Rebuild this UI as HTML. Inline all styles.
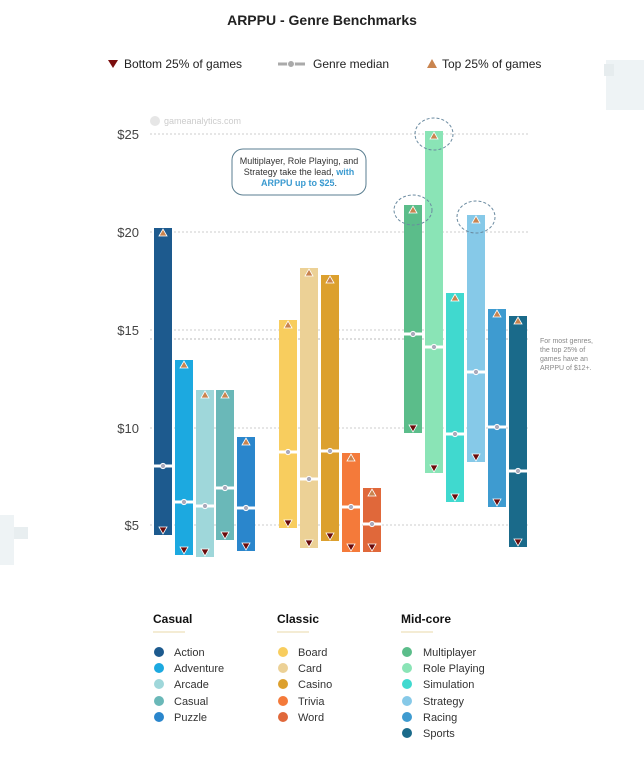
<!DOCTYPE html>
<html><head><meta charset="utf-8"><style>
body{margin:0;background:#fff;font-family:"Liberation Sans",sans-serif;}
svg{display:block}
</style></head><body>
<svg id="s" width="644" height="760" xmlns="http://www.w3.org/2000/svg" font-family="Liberation Sans, sans-serif">
<rect x="606" y="60" width="38" height="50" fill="#eef3f5"/>
<rect x="604" y="64" width="10" height="12" fill="#e6ecee"/>
<rect x="0" y="515" width="14" height="50" fill="#eef3f5"/>
<rect x="14" y="527" width="14" height="12" fill="#e8eef0"/>
<text x="322" y="25" text-anchor="middle" font-size="14" font-weight="bold" fill="#222">ARPPU - Genre Benchmarks</text>
<polygon points="108,60 118,60 113,68" fill="#7a0d0d"/>
<text x="124" y="68" font-size="12" fill="#222">Bottom 25% of games</text>
<line x1="278" y1="64" x2="305" y2="64" stroke="#aaa" stroke-width="3"/>
<circle cx="291" cy="64" r="3.5" fill="#aaa" stroke="#fff" stroke-width="1"/>
<text x="313" y="68" font-size="12" fill="#222">Genre median</text>
<polygon points="427,68 437,68 432,59" fill="#c9844f"/>
<text x="442" y="68" font-size="12" fill="#222">Top 25% of games</text>
<circle cx="155" cy="121" r="5" fill="#e6e6e6"/>
<text x="164" y="124" font-size="9" fill="#ccc">gameanalytics.com</text>
<g font-size="13" fill="#444" text-anchor="end">
<text x="139" y="139">$25</text><text x="139" y="237">$20</text><text x="139" y="335">$15</text><text x="139" y="433">$10</text><text x="139" y="530">$5</text>
</g>
<g stroke="#ccc" stroke-dasharray="2,2" stroke-width="1">
<line x1="150" y1="134" x2="530" y2="134"/><line x1="150" y1="232" x2="530" y2="232"/><line x1="150" y1="330" x2="530" y2="330"/><line x1="150" y1="428" x2="530" y2="428"/><line x1="150" y1="525" x2="530" y2="525"/>
<line x1="150" y1="339" x2="530" y2="339" stroke="#bbb"/>
</g>
<g id="bars"></g>
<g fill="none" stroke="#6a8aa0" stroke-dasharray="3,2">
<ellipse cx="413" cy="210" rx="19" ry="15"/><ellipse cx="434" cy="134" rx="19" ry="16"/><ellipse cx="476" cy="217" rx="19" ry="16"/>
</g>
<rect x="232" y="149" width="134" height="46" rx="11" fill="#fff" stroke="#5a7e90" stroke-width="1"/>
<g font-size="9" text-anchor="middle" fill="#333">
<text x="299" y="164">Multiplayer, Role Playing, and</text>
<text x="299" y="175">Strategy take the lead, <tspan fill="#3a9ad0" font-weight="bold">with</tspan></text>
<text x="299" y="186"><tspan fill="#3a9ad0" font-weight="bold">ARPPU up to $25</tspan>.</text>
</g>
<g font-size="7" fill="#888">
<text x="540" y="343">For most genres,</text><text x="540" y="352">the top 25% of</text><text x="540" y="361">games have an</text><text x="540" y="370">ARPPU of $12+.</text>
</g>
<g font-size="12" font-weight="bold" fill="#111">
<text x="153" y="623">Casual</text><text x="277" y="623">Classic</text><text x="401" y="623">Mid-core</text>
</g>
<g stroke="#ead9a8" stroke-width="1"><line x1="153" y1="632" x2="185" y2="632"/><line x1="277" y1="632" x2="309" y2="632"/><line x1="401" y1="632" x2="433" y2="632"/></g>
<g font-size="11" fill="#333">
<text x="174" y="656">Action</text><text x="174" y="672">Adventure</text><text x="174" y="688">Arcade</text><text x="174" y="705">Casual</text><text x="174" y="721">Puzzle</text>
<text x="298" y="656">Board</text><text x="298" y="672">Card</text><text x="298" y="688">Casino</text><text x="298" y="705">Trivia</text><text x="298" y="721">Word</text>
<text x="423" y="656">Multiplayer</text><text x="423" y="672">Role Playing</text><text x="423" y="688">Simulation</text><text x="423" y="705">Strategy</text><text x="423" y="721">Racing</text><text x="423" y="737">Sports</text>
</g>
<g>
<circle cx="159" cy="652" r="5" fill="#1d5a8e"/><circle cx="159" cy="668" r="5" fill="#1ca9e0"/><circle cx="159" cy="684" r="5" fill="#9fd7da"/><circle cx="159" cy="701" r="5" fill="#6ab8b8"/><circle cx="159" cy="717" r="5" fill="#2a86cc"/>
<circle cx="283" cy="652" r="5" fill="#f8cd5e"/><circle cx="283" cy="668" r="5" fill="#ecd196"/><circle cx="283" cy="684" r="5" fill="#dca02e"/><circle cx="283" cy="701" r="5" fill="#f47a3a"/><circle cx="283" cy="717" r="5" fill="#e0683a"/>
<circle cx="407" cy="652" r="5" fill="#5bbd8a"/><circle cx="407" cy="668" r="5" fill="#8ae4b6"/><circle cx="407" cy="684" r="5" fill="#40d9cf"/><circle cx="407" cy="701" r="5" fill="#86c9e8"/><circle cx="407" cy="717" r="5" fill="#3e9bd0"/><circle cx="407" cy="733" r="5" fill="#1a6a8a"/>
</g>
</svg>
<script>
var d=[[154,228,535,466,"#1d5a8e"],[175,360,555,502,"#1ca9e0"],[196,390,557,506,"#9fd7da"],[216,390,540,488,"#6ab8b8"],[237,437,551,508,"#2a86cc"],
[279,320,528,452,"#f8cd5e"],[300,268,548,479,"#ecd196"],[321,275,541,451,"#dca02e"],[342,453,552,507,"#f47a3a"],[363,488,552,524,"#e0683a"],
[404,205,433,334,"#5bbd8a"],[425,131,473,347,"#8ae4b6"],[446,293,502,434,"#40d9cf"],[467,215,462,372,"#86c9e8"],[488,309,507,427,"#3e9bd0"],[509,316,547,471,"#1a6a8a"]];
var h="";d.forEach(function(b){var x=b[0],w=18,c=x+w/2;
h+='<rect x="'+x+'" y="'+b[1]+'" width="'+w+'" height="'+(b[2]-b[1])+'" fill="'+b[4]+'"/>';
h+='<line x1="'+x+'" y1="'+b[3]+'" x2="'+(x+w)+'" y2="'+b[3]+'" stroke="#fff" stroke-width="3"/>';
h+='<circle cx="'+c+'" cy="'+b[3]+'" r="2.6" fill="#aab" stroke="#fff" stroke-width="1"/>';
h+='<polygon points="'+(c-4)+','+(b[1]+8)+' '+(c+4)+','+(b[1]+8)+' '+c+','+(b[1]+1)+'" fill="#c9844f" stroke="#fff" stroke-width="0.8"/>';
h+='<polygon points="'+(c-4)+','+(b[2]-8)+' '+(c+4)+','+(b[2]-8)+' '+c+','+(b[2]-1)+'" fill="#6a0b0b" stroke="#fff" stroke-width="0.8"/>';});
document.getElementById("bars").innerHTML=h;
</script>
</body></html>
